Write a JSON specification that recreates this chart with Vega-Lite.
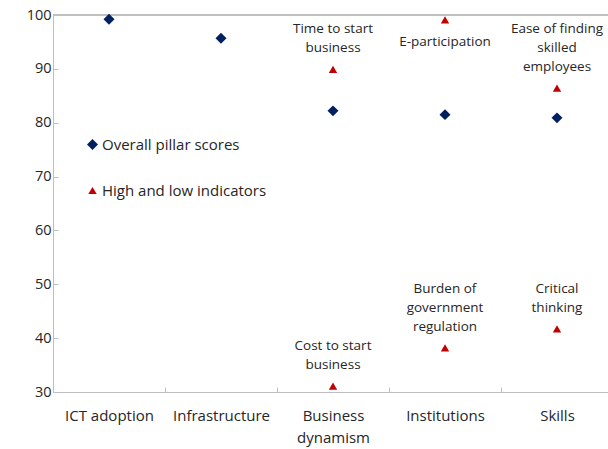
{
  "$schema": "https://vega.github.io/schema/vega-lite/v6.json",
  "autosize": {"type": "none"},
  "padding": {"left": 53, "top": 15, "right": 0, "bottom": 57},
  "width": 560,
  "height": 377,
  "background": "white",
  "config": {
    "view": {"stroke": null},
    "font": "Open Sans",
    "text": {"font": "Open Sans"}
  },
  "datasets": {
    "points": [
      {"pillar": "ICT adoption", "series": "Overall pillar scores", "value": 99.2},
      {"pillar": "Infrastructure", "series": "Overall pillar scores", "value": 95.7},
      {"pillar": "Business dynamism", "series": "Overall pillar scores", "value": 82.2},
      {"pillar": "Institutions", "series": "Overall pillar scores", "value": 81.5},
      {"pillar": "Skills", "series": "Overall pillar scores", "value": 80.9},
      {"pillar": "Business dynamism", "series": "High and low indicators", "value": 89.9, "label": "Time to start\nbusiness"},
      {"pillar": "Business dynamism", "series": "High and low indicators", "value": 31.1, "label": "Cost to start\nbusiness"},
      {"pillar": "Institutions", "series": "High and low indicators", "value": 99.1, "label": "E-participation"},
      {"pillar": "Institutions", "series": "High and low indicators", "value": 38.2, "label": "Burden of\ngovernment\nregulation"},
      {"pillar": "Skills", "series": "High and low indicators", "value": 86.4, "label": "Ease of finding\nskilled\nemployees"},
      {"pillar": "Skills", "series": "High and low indicators", "value": 41.7, "label": "Critical\nthinking"}
    ]
  },
  "data": {"name": "points"},
  "encoding": {
    "x": {
      "field": "pillar", "type": "nominal",
      "sort": ["ICT adoption", "Infrastructure", "Business dynamism", "Institutions", "Skills"],
      "scale": {"type": "band", "paddingInner": 0, "paddingOuter": 0},
      "axis": {
        "title": null, "labelAngle": 0, "tickBand": "extent",
        "domainColor": "#BFBFBF", "tickColor": "#BFBFBF", "tickSize": -5,
        "labelFont": "Open Sans", "labelFontSize": 15, "labelColor": "#262626",
        "labelPadding": 21, "labelLineHeight": 22,
        "labelExpr": "datum.label == 'Business dynamism' ? ['Business', 'dynamism'] : datum.label"
      }
    },
    "y": {
      "field": "value", "type": "quantitative",
      "scale": {"domain": [30, 100], "nice": false, "zero": false},
      "axis": {
        "title": null, "grid": false, "values": [30, 40, 50, 60, 70, 80, 90, 100],
        "domainColor": "#BFBFBF", "tickColor": "#BFBFBF", "tickSize": -5,
        "labelFont": "Open Sans", "labelFontSize": 14.5, "labelColor": "#262626",
        "labelPadding": 7
      }
    }
  },
  "layer": [
    {
      "mark": {"type": "rule", "color": "#BFBFBF", "strokeWidth": 1},
      "encoding": {"y": {"datum": 100}, "x": {"value": 0}, "x2": {"value": 560}}
    },
    {
      "mark": {"type": "point", "filled": true, "opacity": 1},
      "encoding": {
        "color": {
          "field": "series", "type": "nominal",
          "scale": {"domain": ["Overall pillar scores", "High and low indicators"], "range": ["#002060", "#C00000"]},
          "legend": {
            "title": null, "orient": "none", "legendX": 32, "legendY": 122,
            "labelFont": "Open Sans", "labelFontSize": 15, "labelColor": "#262626", "labelLimit": 400,
            "symbolSize": 40, "rowPadding": 30, "labelOffset": 2, "padding": 0
          }
        },
        "shape": {
          "field": "series", "type": "nominal",
          "scale": {"domain": ["Overall pillar scores", "High and low indicators"], "range": ["diamond", "triangle-up"]}
        },
        "size": {
          "field": "series", "type": "nominal",
          "scale": {"domain": ["Overall pillar scores", "High and low indicators"], "range": [120, 70]},
          "legend": null
        }
      }
    },
    {
      "transform": [{"filter": "datum.label != null && datum.label != 'E-participation' && length(split(datum.label, '\\n')) == 2"}],
      "mark": {"type": "text", "lineBreak": "\n", "baseline": "middle", "dy": -40, "fontSize": 13.5, "color": "#262626", "lineHeight": 19, "font": "Open Sans"},
      "encoding": {"text": {"field": "label"}}
    },
    {
      "transform": [{"filter": "datum.label != null && length(split(datum.label, '\\n')) == 3"}],
      "mark": {"type": "text", "lineBreak": "\n", "baseline": "middle", "dy": -59, "fontSize": 13.5, "color": "#262626", "lineHeight": 19, "font": "Open Sans"},
      "encoding": {"text": {"field": "label"}}
    },
    {
      "transform": [{"filter": "datum.label == 'E-participation'"}],
      "mark": {"type": "text", "baseline": "middle", "dy": 22, "fontSize": 13.5, "color": "#262626", "font": "Open Sans"},
      "encoding": {"text": {"field": "label"}}
    }
  ]
}
